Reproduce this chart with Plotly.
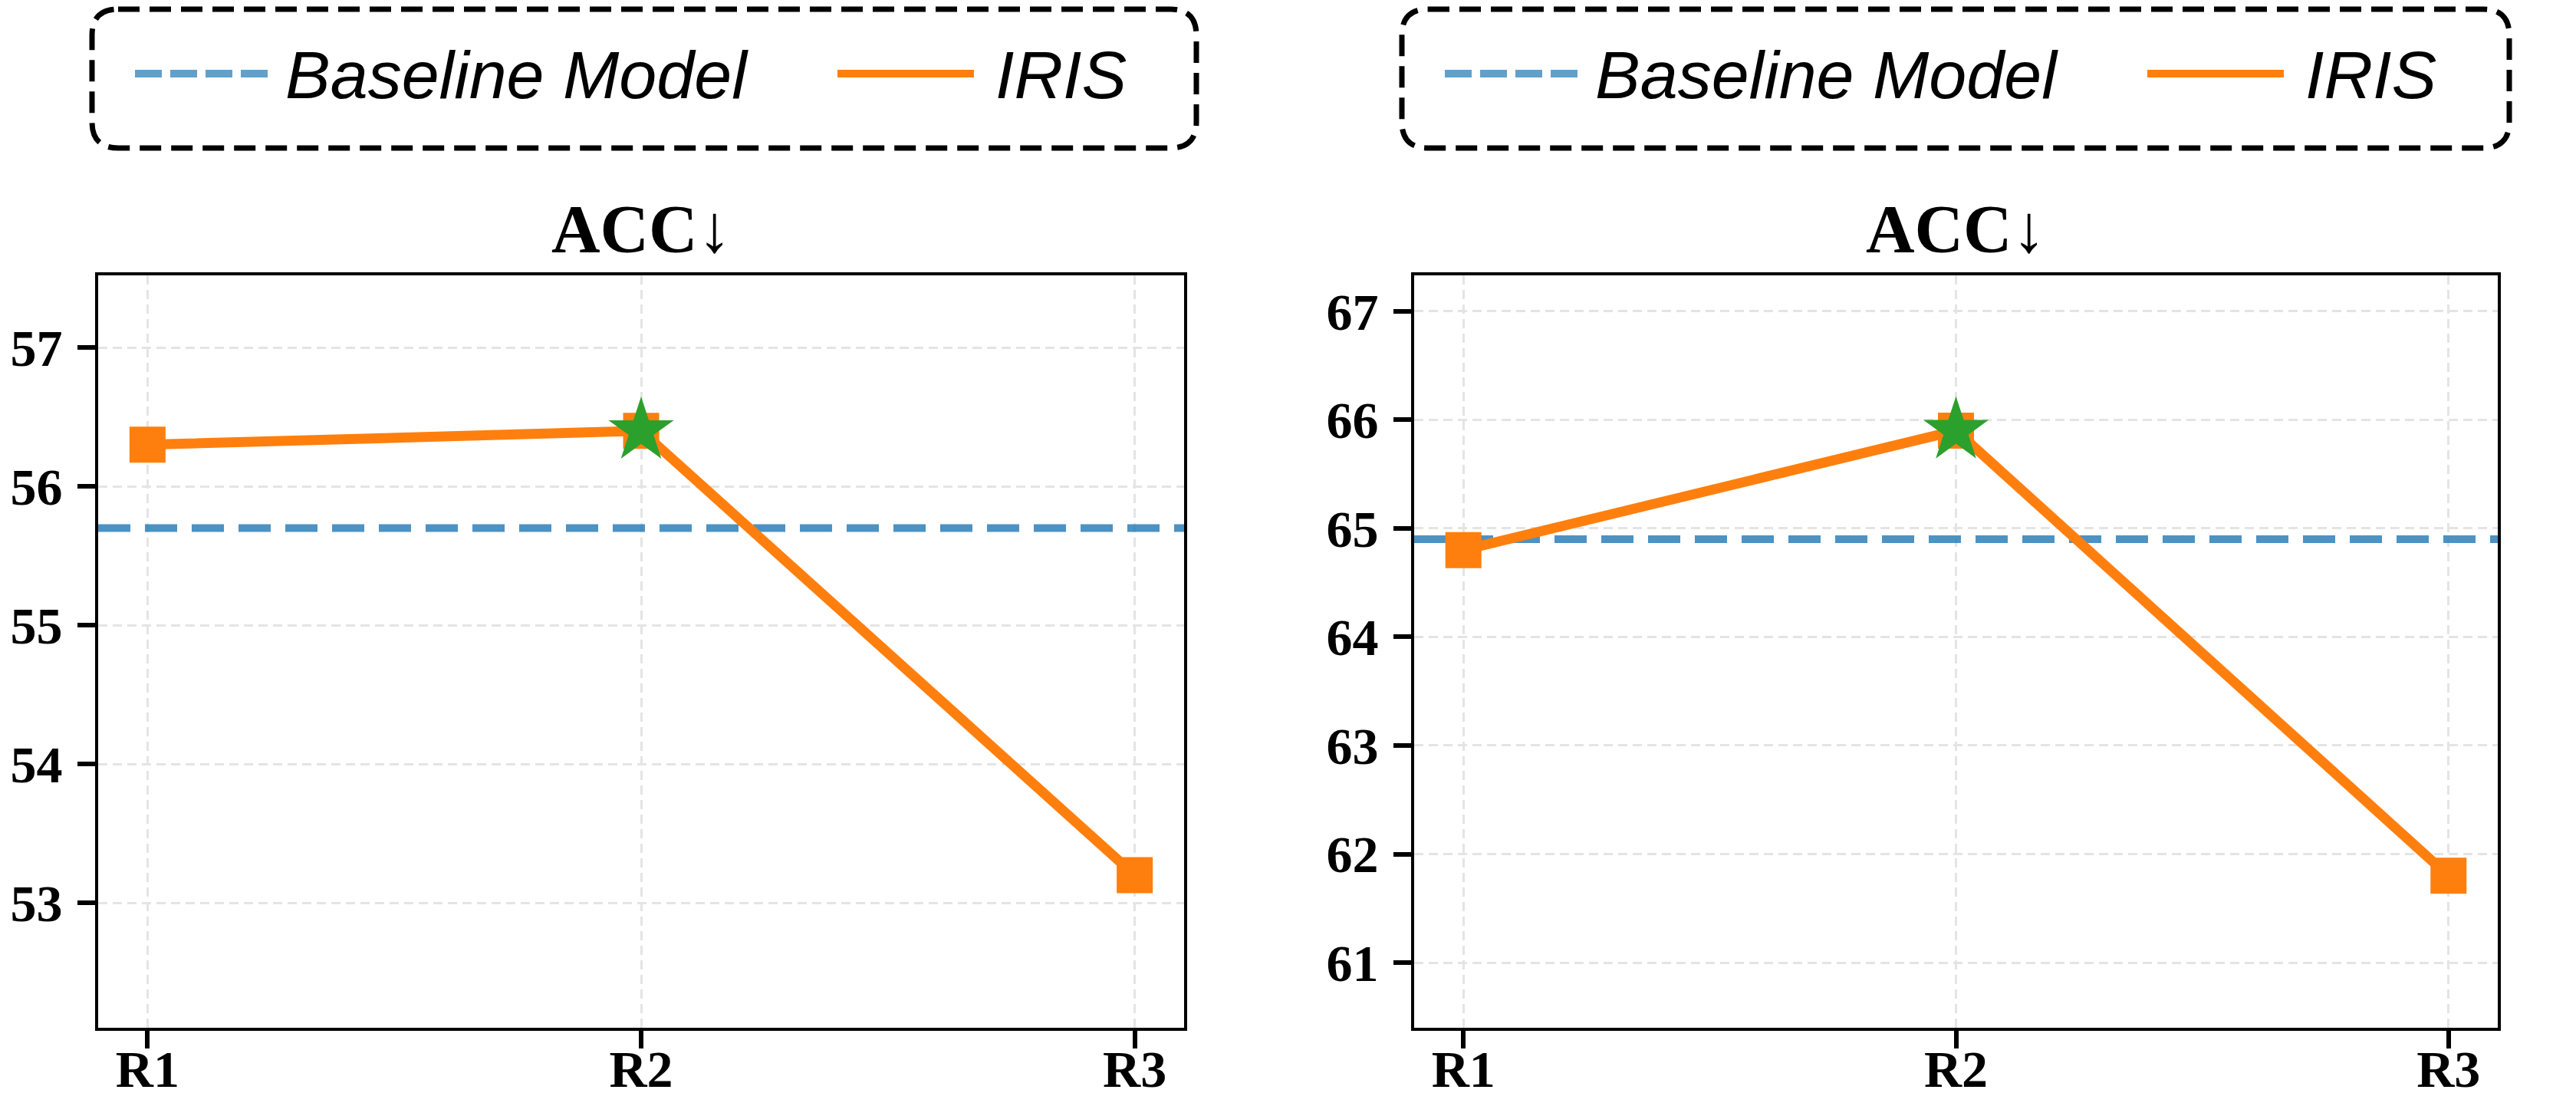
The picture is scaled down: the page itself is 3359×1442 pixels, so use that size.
import plotly.graph_objects as go

# ---------------- data ----------------
categories = ["R1", "R2", "R3"]
iris_left = [56.3, 56.4, 53.2]
iris_right = [64.8, 65.9, 61.8]
baseline_left = 55.7
baseline_right = 64.9
best_left = 1
best_right = 1
yticks_left = [53, 54, 55, 56, 57]
yticks_right = [61, 62, 63, 64, 65, 66, 67]
yrange_left = [52.1, 57.52]
yrange_right = [60.4, 67.33]
xrange_cat = [-0.1, 2.1]
panel_titles = ["ACC↓", "ACC↓"]
series_names = ["Baseline Model", "IRIS"]

# ---------------- style ----------------
W, H = 3359, 1442
ORANGE = "#ff7f0e"
GREEN = "#2ca02c"
BLUE = "rgba(31,119,180,0.8)"
BLUE_LEG = "rgba(31,119,180,0.7)"
GRID = "#e4e4e4"
SERIF = "Liberation Serif"
LEGFONT = "Liberation Sans"


def px(x):
    return x / W


def py(y):
    return 1 - y / H


# axes domains (pixel -> paper)
xdom = [[px(120), px(1536)], [px(1836), px(3249)]]
ydom = [py(1332), py(351)]

fig = go.Figure()

panels = [
    (iris_left, baseline_left, best_left, yticks_left, yrange_left, "x", "y"),
    (iris_right, baseline_right, best_right, yticks_right, yrange_right, "x2", "y2"),
]

for i, (vals, base, best, yt, yr, xa, ya) in enumerate(panels):
    fig.add_trace(go.Scatter(
        x=categories, y=vals, mode="lines+markers", name=series_names[1],
        line=dict(color=ORANGE, width=13),
        marker=dict(symbol="square", size=47, color=ORANGE, line=dict(width=0)),
        xaxis=xa, yaxis=ya, showlegend=False, cliponaxis=False,
    ))
    fig.add_trace(go.Scatter(
        x=[categories[best]], y=[vals[best]], mode="markers", name="best",
        marker=dict(symbol="star", size=64, color=GREEN, line=dict(width=0)),
        xaxis=xa, yaxis=ya, showlegend=False, cliponaxis=False,
    ))
    # baseline (axhline across the full axis range)
    fig.add_shape(type="line", xref=xa, yref=ya,
                  x0=xrange_cat[0], x1=xrange_cat[1],
                  y0=base, y1=base, layer="between",
                  line=dict(color=BLUE, width=10, dash="42px,19px"))

    axis_common = dict(
        showline=True, linecolor="black", linewidth=4, mirror=True,
        ticks="outside", ticklen=23, tickwidth=6, tickcolor="black",
        showgrid=True, gridcolor=GRID, gridwidth=3, griddash="12px,7px",
        zeroline=False, automargin=False,
        tickfont=dict(family=SERIF, size=68, color="black", weight="bold"),
    )
    xkey = "xaxis" if i == 0 else "xaxis2"
    ykey = "yaxis" if i == 0 else "yaxis2"
    fig.update_layout({
        xkey: dict(axis_common, domain=xdom[i], anchor=ya, type="category",
                   categoryorder="array", categoryarray=categories,
                   range=xrange_cat, ticklabelstandoff=-32),
        ykey: dict(axis_common, domain=ydom, anchor=xa, range=yr,
                   tickmode="array", tickvals=yt, ticktext=[str(v) for v in yt],
                   ticklabelstandoff=6),
    })

    # panel title
    cx = (xdom[i][0] + xdom[i][1]) / 2
    fig.add_annotation(text=f"<b>{panel_titles[i]}</b>", xref="paper", yref="paper",
                       x=cx, y=py(290), xanchor="center", yanchor="middle",
                       showarrow=False,
                       font=dict(family=SERIF, size=88, color="black"))

# ---------------- manual legends (one per panel) ----------------
boxes = [(112, 1552), (1820, 3264)]
by0, by1 = 4, 185
r = 34
for (bx0, bx1) in boxes:
    path = (
        f"M {px(bx0 + r)},{py(by0)} L {px(bx1 - r)},{py(by0)} "
        f"Q {px(bx1)},{py(by0)} {px(bx1)},{py(by0 + r)} "
        f"L {px(bx1)},{py(by1 - r)} Q {px(bx1)},{py(by1)} {px(bx1 - r)},{py(by1)} "
        f"L {px(bx0 + r)},{py(by1)} Q {px(bx0)},{py(by1)} {px(bx0)},{py(by1 - r)} "
        f"L {px(bx0)},{py(by0 + r)} Q {px(bx0)},{py(by0)} {px(bx0 + r)},{py(by0)} Z"
    )
    fig.add_shape(type="path", path=path, xref="paper", yref="paper",
                  line=dict(color="black", width=7, dash="28px,13px"),
                  fillcolor="rgba(0,0,0,0)", layer="above")
    yc = 88
    # baseline sample
    fig.add_shape(type="line", xref="paper", yref="paper",
                  x0=px(bx0 + 56), x1=px(bx0 + 231), y0=py(yc), y1=py(yc),
                  layer="above",
                  line=dict(color=BLUE_LEG, width=10, dash="35px,11px"))
    fig.add_annotation(text=f"<i>{series_names[0]}</i>", xref="paper", yref="paper",
                       x=px(bx0 + 250), y=py(yc + 2), xanchor="left", yanchor="middle",
                       showarrow=False,
                       font=dict(family=LEGFONT, size=88, color="black", style="italic"))
    # IRIS sample
    fig.add_shape(type="line", xref="paper", yref="paper",
                  x0=px(bx0 + 972), x1=px(bx0 + 1150), y0=py(yc), y1=py(yc),
                  layer="above",
                  line=dict(color=ORANGE, width=10))
    fig.add_annotation(text=f"<i>{series_names[1]}</i>", xref="paper", yref="paper",
                       x=px(bx0 + 1176), y=py(yc + 2), xanchor="left", yanchor="middle",
                       showarrow=False,
                       font=dict(family=LEGFONT, size=88, color="black", style="italic"))

fig.update_layout(
    width=W, height=H,
    margin=dict(l=0, r=0, t=0, b=0),
    paper_bgcolor="white", plot_bgcolor="white",
    showlegend=False,
)

fig.write_html("out.html")
